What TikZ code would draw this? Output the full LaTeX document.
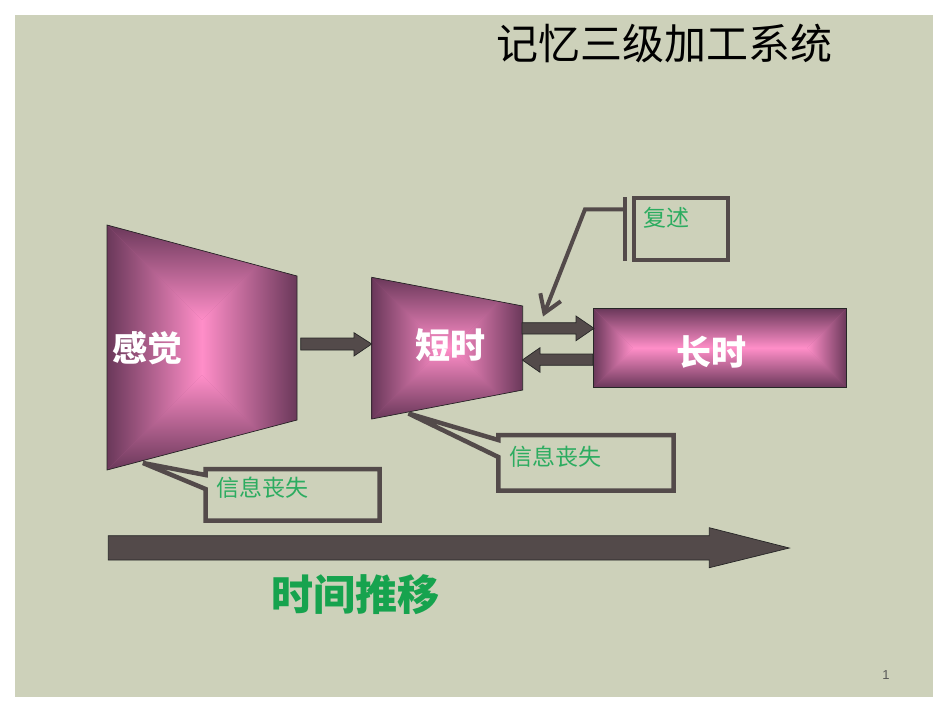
\documentclass[tikz,border=0pt]{standalone}
\usepackage{fontspec}
\setmainfont{Liberation Sans}
\newfontfamily\cjk{Noto Sans CJK SC}
\usetikzlibrary{arrows.meta}
\definecolor{slidebg}{RGB}{205,209,186}
\definecolor{arrowfill}{RGB}{83,74,74}
\definecolor{pdark}{RGB}{106,56,90}
\definecolor{plight}{RGB}{255,142,200}
\definecolor{pmid}{RGB}{180,95,145}
\definecolor{txtgreen}{RGB}{44,172,96}
\definecolor{biggreen}{RGB}{22,163,78}
\tikzset{
  blockarrow/.style={fill=arrowfill, draw=black!85, line width=0.7pt, line join=miter},
  calloutline/.style={draw=arrowfill, line width=4.5pt, miter limit=2},
  stagetext/.style={text=white, font=\cjk\bfseries\fontsize{35}{40}\selectfont, inner sep=0pt},
  notetext/.style={text=txtgreen, font=\cjk\fontsize{23}{26}\selectfont, inner sep=0pt},
  shapeedge/.style={draw=black!85, line width=0.7pt},
}
\begin{document}
\begin{tikzpicture}[x=1pt,y=-1pt]
\useasboundingbox (0,0) rectangle (950,713);
\fill[white] (0,0) rectangle (950,713);
\fill[slidebg] (15,15) rectangle (933,697);

% title
\node[font=\cjk\fontsize{42}{48}\selectfont, inner sep=0pt] (title) at (664,43) {记忆三级加工系统};

% sensory stage
\begin{scope}
\clip (107,225) -- (297,276) -- (297,420) -- (107,470) -- cycle;
\fill[pmid] (107,225) rectangle (297,470);
\shade[top color=pdark, bottom color=plight] (107,225) -- (297,225) -- (202,320) -- cycle;
\shade[top color=plight, bottom color=pdark] (107,470) -- (297,470) -- (202,375) -- cycle;
\shade[left color=pdark, right color=plight] (107,225) -- (202,320) -- (202,375) -- (107,470) -- cycle;
\shade[left color=plight, right color=pdark] (297,225) -- (202,320) -- (202,375) -- (297,470) -- cycle;
\end{scope}
\draw[shapeedge] (107,225) -- (297,276) -- (297,420) -- (107,470) -- cycle;

% short-term stage
\begin{scope}
\clip (371.7,277.3) -- (522.7,306) -- (522.7,390) -- (371.7,419) -- cycle;
\fill[pmid] (371.7,277.3) rectangle (522.7,419);
\shade[top color=pdark, bottom color=plight] (371.7,277.3) -- (522.7,277.3) -- (451.9,348.2) -- (442.5,348.2) -- cycle;
\shade[top color=plight, bottom color=pdark] (371.7,419) -- (522.7,419) -- (451.9,348.2) -- (442.5,348.2) -- cycle;
\shade[left color=pdark, right color=plight] (371.7,277.3) -- (442.5,348.2) -- (371.7,419) -- cycle;
\shade[left color=plight, right color=pdark] (522.7,277.3) -- (451.9,348.2) -- (522.7,419) -- cycle;
\end{scope}
\draw[shapeedge] (371.7,277.3) -- (522.7,306) -- (522.7,390) -- (371.7,419) -- cycle;

% long-term stage
\begin{scope}
\clip (593.3,308.3) rectangle (846.7,387.3);
\fill[pmid] (593.3,308.3) rectangle (846.7,387.3);
\shade[top color=pdark, bottom color=plight] (593.3,308.3) -- (846.7,308.3) -- (807.2,347.8) -- (632.8,347.8) -- cycle;
\shade[top color=plight, bottom color=pdark] (593.3,387.3) -- (846.7,387.3) -- (807.2,347.8) -- (632.8,347.8) -- cycle;
\shade[left color=pdark, right color=plight] (593.3,308.3) -- (632.8,347.8) -- (593.3,387.3) -- cycle;
\shade[left color=plight, right color=pdark] (846.7,308.3) -- (807.2,347.8) -- (846.7,387.3) -- cycle;
\end{scope}
\draw[shapeedge] (593.3,308.3) rectangle (846.7,387.3);

\node[stagetext] (sens) at (147,348) {感觉};
\node[stagetext] (stm) at (450,345) {短时};
\node[stagetext] (ltm) at (711,352) {长时};

% block arrows
\draw[blockarrow] (300.7,338) -- (354,338) -- (354,332.7) -- (371.7,344) -- (354,356) -- (354,350) -- (300.7,350) -- cycle;
\draw[blockarrow] (522,322.7) -- (576,322.7) -- (576,316) -- (594,328.3) -- (576,340.7) -- (576,334) -- (522,334) -- cycle;
\draw[blockarrow] (593,354) -- (540,354) -- (540,347.7) -- (522.3,360) -- (540,372.3) -- (540,365.3) -- (593,365.3) -- cycle;
\draw[blockarrow] (108.3,535.7) -- (709.3,535.7) -- (709.3,527.7) -- (789.3,548) -- (709.3,567.7) -- (709.3,560) -- (108.3,560) -- cycle;

% callouts
\draw[calloutline] (205.5,475) -- (205.5,469) -- (379.5,469) -- (379.5,520.5) -- (205.5,520.5) -- (205.5,489) -- (143,463) -- cycle;
\node[notetext] (loss1) at (262,488) {信息丧失};

\draw[calloutline] (498.3,440) -- (498.3,435) -- (673.5,435) -- (673.5,490.5) -- (498.3,490.5) -- (498.3,457) -- (408.5,413.5) -- cycle;
\node[notetext] (loss2) at (555,457) {信息丧失};

\draw[draw=arrowfill, line width=4pt] (633.7,198) rectangle (728,259.7);
\draw[draw=arrowfill, line width=4pt] (625,197) -- (625,261);
\coordinate (rehtip) at (543,316.5);
\draw[draw=arrowfill, line width=4pt, -{Straight Barb[length=17pt,width=22pt]}] (625,209.3) -- (585,209.3) -- (rehtip);
\node[notetext] (rehearse) at (666,218) {复述};

% time label
\node[text=biggreen, font=\cjk\bfseries\fontsize{42}{48}\selectfont, inner sep=0pt] (time) at (355,595) {时间推移};

\node[font=\fontsize{13}{15}\selectfont, text=black!65, inner sep=0pt] (pnum) at (886,675) {1};
\end{tikzpicture}
\end{document}
